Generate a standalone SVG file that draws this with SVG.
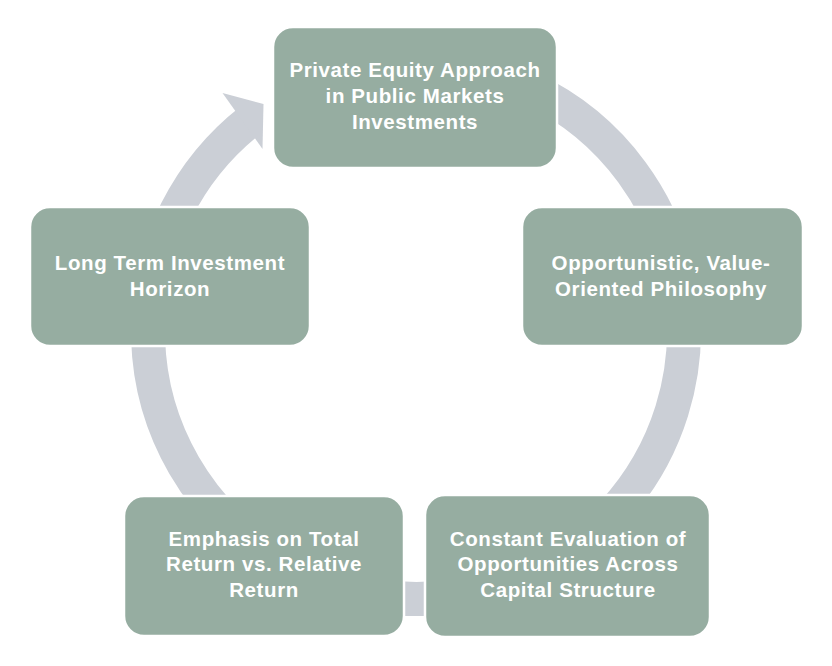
<svg xmlns="http://www.w3.org/2000/svg" width="832" height="666" viewBox="0 0 832 666">
<style>
.box{fill:#96ADA1;stroke:#ffffff;stroke-width:2.5}
.lbl{font-family:"Liberation Sans",Arial,sans-serif;font-weight:bold;font-size:20.5px;letter-spacing:0.6px;fill:#ffffff;text-anchor:middle}
.ring{fill:none;stroke:#CBCFD6;stroke-width:34;stroke-linecap:butt}
.head{fill:#CBCFD6}
</style>
<rect width="832" height="666" fill="#ffffff"/>
<g id="connectors">
<path class="ring" d="M 416 63 A 268 268 0 1 1 251.0 119.8"/>
<polygon class="head" points="222.5,93 263.5,104 262.5,149"/>
</g>
<g id="node-top">
<rect class="box" x="273" y="27" width="284" height="141" rx="20"/>
<text class="lbl" x="415" y="77">Private Equity Approach</text>
<text class="lbl" x="415" y="103">in Public Markets</text>
<text class="lbl" x="415" y="129">Investments</text>
</g>
<g id="node-right">
<rect class="box" x="522" y="207" width="281" height="139" rx="20"/>
<text class="lbl" x="661" y="270">Opportunistic, Value-</text>
<text class="lbl" x="661" y="296">Oriented Philosophy</text>
</g>
<g id="node-bottom-right">
<rect class="box" x="425" y="495" width="285" height="142" rx="20"/>
<text class="lbl" x="568" y="546">Constant Evaluation of</text>
<text class="lbl" x="568" y="571">Opportunities Across</text>
<text class="lbl" x="568" y="597">Capital Structure</text>
</g>
<g id="node-bottom-left">
<rect class="box" x="124" y="496" width="280" height="140" rx="20"/>
<text class="lbl" x="264" y="546">Emphasis on Total</text>
<text class="lbl" x="264" y="571">Return vs. Relative</text>
<text class="lbl" x="264" y="597">Return</text>
</g>
<g id="node-left">
<rect class="box" x="30" y="207" width="280" height="139" rx="20"/>
<text class="lbl" x="170" y="270">Long Term Investment</text>
<text class="lbl" x="170" y="296">Horizon</text>
</g>
</svg>
